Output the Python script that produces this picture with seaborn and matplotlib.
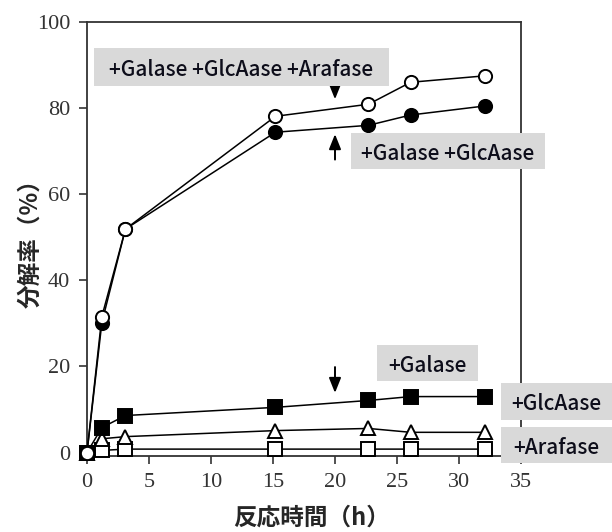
import matplotlib
matplotlib.use("Agg")
import matplotlib.pyplot as plt
from matplotlib.patches import Rectangle
import seaborn as sns

# ---- data ----
time_h = [0, 1.2, 3.1, 15.2, 22.7, 26.1, 32.1]
all_three = [0, 31.6, 51.9, 78.1, 80.9, 86.0, 87.5]      # +Galase +GlcAase +Arafase (open circles)
gal_glc = [0, 30.2, 51.9, 74.4, 76.0, 78.4, 80.5]        # +Galase +GlcAase (filled circles)
galase = [0, 5.8, 8.6, 10.5, 12.1, 13.0, 13.0]           # +Galase (filled squares)
glcaase = [0, 3.2, 3.7, 5.1, 5.6, 4.7, 4.7]              # +GlcAase (open triangles)
arafase = [0, 0.5, 0.8, 0.8, 0.8, 0.8, 0.8]              # +Arafase (open squares)

x_ticks = [0, 5, 10, 15, 20, 25, 30, 35]
y_ticks = [0, 20, 40, 60, 80, 100]
xlabel = "反応時間（h）"
ylabel = "分解率（%）"

sns.set_style("ticks")
plt.rcParams['font.family'] = ['Noto Sans CJK JP', 'DejaVu Sans']

W, H = 612, 532
fig = plt.figure(figsize=(W / 100, H / 100), dpi=100)
ax = fig.add_axes([87 / W, 1 - 456 / H, (521 - 87) / W, (456 - 22) / H])

common = dict(color="black", linewidth=1.1, markeredgecolor="black",
              markeredgewidth=1.4, ax=ax, legend=False, clip_on=False)

sns.lineplot(x=time_h, y=arafase, marker="s", markersize=10.5,
             markerfacecolor="white", zorder=3, **common)
sns.lineplot(x=time_h, y=glcaase, marker="^", markersize=9.5,
             markerfacecolor="white", zorder=3, **common)
sns.lineplot(x=time_h, y=galase, marker="s", markersize=10.5,
             markerfacecolor="black", zorder=4, **common)
sns.lineplot(x=time_h, y=gal_glc, marker="o", markersize=9.5,
             markerfacecolor="black", zorder=5, **common)
sns.lineplot(x=time_h, y=all_three, marker="o", markersize=9.5,
             markerfacecolor="white", zorder=6, **common)

ax.set_xlim(0, 35)
ax.set_ylim(-0.8, 100)
ax.set_xticks(x_ticks)
ax.set_yticks(y_ticks)
ax.set_xticklabels([str(v) for v in x_ticks])
ax.set_yticklabels([str(v) for v in y_ticks])
for lab in ax.get_xticklabels() + ax.get_yticklabels():
    lab.set_fontfamily(["Liberation Serif", "DejaVu Serif"])
    lab.set_fontsize(16)
    lab.set_color("#333333")
ax.tick_params(direction="out", length=6, width=1.2, colors="#333333", pad=6)
for sp in ax.spines.values():
    sp.set_visible(True)
    sp.set_linewidth(1.3)
    sp.set_color("#333333")

fig.text(30 / W, 1 - 238 / H, ylabel, rotation=90, ha="center", va="center",
         fontsize=17, fontweight="bold", family=["Noto Sans CJK JP", "DejaVu Sans"])
fig.text(312 / W, 1 - 518 / H, xlabel, ha="center", va="center",
         fontsize=17, fontweight="bold", family=["Noto Sans CJK JP", "DejaVu Sans"])

# ---- annotation boxes (figure pixels) ----
boxes = [
    ((94, 48, 389, 86), "+Galase +GlcAase +Arafase"),
    ((351, 133, 545, 169), "+Galase +GlcAase"),
    ((377, 345, 478, 381), "+Galase"),
    ((501, 383, 612, 420), "+GlcAase"),
    ((501, 427, 612, 463), "+Arafase"),
]
for (x0, y0, x1, y1), txt in boxes:
    fig.patches.append(Rectangle((x0 / W, 1 - y1 / H), (x1 - x0) / W, (y1 - y0) / H,
                                 transform=fig.transFigure, facecolor="#d9d9d9",
                                 edgecolor="none", zorder=10))
    fig.text((x0 + x1) / 2 / W, 1 - (y0 + y1) / 2 / H, txt, ha="center", va="center_baseline",
             fontsize=15, fontweight="medium", color="#0d0d1a", zorder=11,
             family=["Noto Sans CJK JP", "DejaVu Sans"])

# ---- arrows ----
arrow_kw = dict(arrowstyle="-|>,head_length=0.9,head_width=0.36", color="black", lw=1.4)
ax.annotate("", xy=(20, 81.4), xytext=(20, 86.0), arrowprops=arrow_kw, annotation_clip=False)
ax.annotate("", xy=(20, 74.6), xytext=(20, 67.4), arrowprops=arrow_kw, annotation_clip=False)
ax.annotate("", xy=(20, 13.2), xytext=(20, 20.5), arrowprops=arrow_kw, annotation_clip=False)

fig.savefig("out.png", dpi=100)
